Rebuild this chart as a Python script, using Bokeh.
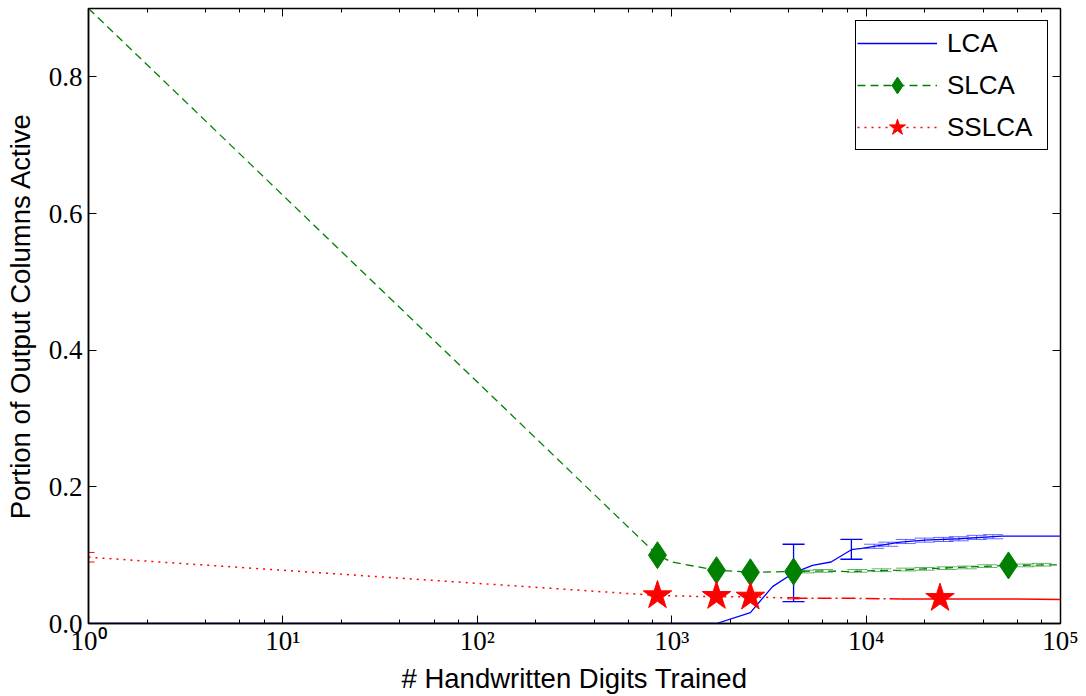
from bokeh.plotting import figure
from bokeh.models import (ColumnDataSource, Whisker, TeeHead, FixedTicker, LogTicker,
                          LinearAxis, LogAxis, Legend, LegendItem, CustomJSTickFormatter)
from bokeh.embed import file_html
from bokeh.resources import INLINE

# ---- data ----
lca_x = [1, 1000, 1700, 2540, 3300, 4235, 5300, 6600, 8400, 9500, 11000, 15000, 20000, 30000, 50000, 100000]
lca_y = [0, 0, 0, 0.016, 0.054, 0.074, 0.085, 0.090, 0.108, 0.110, 0.113, 0.119, 0.122, 0.124, 0.128, 0.128]
lca_err_x = [4235, 8400]
lca_err_lo = [0.032, 0.094]
lca_err_hi = [0.116, 0.123]
lca_fine_x = [11000, 13000, 16000, 20000, 25000, 30000, 37000, 45000]
lca_fine_y = [0.113, 0.116, 0.120, 0.122, 0.123, 0.124, 0.126, 0.127]
lca_fine_e = [0.003, 0.003, 0.003, 0.003, 0.003, 0.003, 0.003, 0.003]

slca_x = [1, 845, 1000, 1700, 2540, 4235, 6000, 8000, 10000, 15000, 20000, 30000, 54000, 100000]
slca_y = [0.9, 0.100, 0.090, 0.078, 0.075, 0.076, 0.077, 0.076, 0.077, 0.078, 0.080, 0.082, 0.085, 0.086]
slca_mark_x = [845, 1700, 2540, 4235, 54000]
slca_mark_y = [0.100, 0.078, 0.075, 0.076, 0.085]
slca_fine_x = [4800, 6000, 9000, 12000, 16000, 20000, 26000, 33000, 42000, 65000, 80000]
slca_fine_y = [0.076, 0.077, 0.077, 0.078, 0.079, 0.080, 0.081, 0.082, 0.084, 0.085, 0.086]
slca_fine_e = [0.002] * 11

sslca_x = [1, 845, 1700, 2540, 4235, 8000, 15000, 24000, 50000, 100000]
sslca_y = [0.097, 0.041, 0.039, 0.039, 0.037, 0.037, 0.036, 0.036, 0.036, 0.035]
sslca_mark_x = [845, 1700, 2540, 24000]
sslca_mark_y = [0.041, 0.040, 0.039, 0.037]
sslca_err_x = [1, 4235]
sslca_err_lo = [0.090, 0.036]
sslca_err_hi = [0.104, 0.038]

y_ticks = [0.0, 0.2, 0.4, 0.6, 0.8]
x_ticks = [1, 10, 100, 1000, 10000, 100000]
x_tick_labels = ["10\u2070", "10\u00b9", "10\u00b2", "10\u00b3", "10\u2074", "10\u2075"]

BLUE, GREEN, RED = "#0000ff", "#008000", "#ff0000"
SERIF = "Liberation Serif"
SANS = "Liberation Sans"

p = figure(width=1086, height=696, x_axis_type="log", x_range=(1, 100000), y_range=(0, 0.9),
           output_backend="svg", toolbar_location=None,
           min_border_left=88, min_border_right=26, min_border_top=8, min_border_bottom=71)
p.xgrid.visible = False
p.ygrid.visible = False
p.outline_line_color = "black"
p.outline_line_width = 1.5
p.outline_line_alpha = 1.0
p.background_fill_color = "white"
p.border_fill_color = "white"

# axes
xa = p.xaxis[0]
xa.ticker = LogTicker(desired_num_ticks=6)
xa.major_label_overrides = {v: s for v, s in zip(x_ticks, x_tick_labels)}
xa.axis_label = "# Handwritten Digits Trained"
ya = p.yaxis[0]
ya.ticker = FixedTicker(ticks=y_ticks)
ya.formatter = CustomJSTickFormatter(code="return tick.toFixed(1);")
ya.axis_label = "Portion of Output Columns Active"
for ax in (xa, ya):
    ax.axis_line_color = "black"
    ax.axis_line_width = 1.5
    ax.major_tick_in = 8
    ax.major_tick_out = 0
    ax.minor_tick_in = 4
    ax.minor_tick_out = 0
    ax.major_label_text_font = SERIF
    ax.major_label_text_font_size = "27px"
    ax.major_label_text_color = "black"
    ax.axis_label_text_font = SANS
    ax.axis_label_text_font_size = "27.5px"
    ax.axis_label_text_font_style = "normal"
    ax.axis_label_text_color = "black"
ya.minor_tick_in = 0
ya.major_label_standoff = 6
xa.major_label_standoff = 2
xa.axis_label_standoff = 4
ya.axis_label_standoff = 10

# inward ticks on the opposite sides
top = LogAxis(ticker=LogTicker(desired_num_ticks=6), major_tick_in=8, major_tick_out=0,
              minor_tick_in=4, minor_tick_out=0, major_label_text_color=None,
              major_label_standoff=0, axis_line_color=None)
right = LinearAxis(ticker=FixedTicker(ticks=y_ticks), major_tick_in=8, major_tick_out=0,
                   minor_tick_in=0, minor_tick_out=0, major_label_text_color=None,
                   major_label_standoff=0, axis_line_color=None)
p.add_layout(top, "above")
p.add_layout(right, "right")

# ---- LCA ----
lca_line = p.line(lca_x, lca_y, line_color=BLUE, line_width=1.3)
src = ColumnDataSource(dict(x=lca_err_x, lo=lca_err_lo, hi=lca_err_hi))
p.add_layout(Whisker(source=src, base="x", lower="lo", upper="hi", line_color=BLUE, line_width=1.3,
                     upper_head=TeeHead(size=22, line_color=BLUE, line_width=1.3),
                     lower_head=TeeHead(size=22, line_color=BLUE, line_width=1.3)))
src = ColumnDataSource(dict(x=lca_fine_x, lo=[a - e for a, e in zip(lca_fine_y, lca_fine_e)],
                            hi=[a + e for a, e in zip(lca_fine_y, lca_fine_e)]))
p.add_layout(Whisker(source=src, base="x", lower="lo", upper="hi", line_color=BLUE, line_width=1,
                     line_alpha=0.6,
                     upper_head=TeeHead(size=20, line_color=BLUE, line_width=1, line_alpha=0.6),
                     lower_head=TeeHead(size=20, line_color=BLUE, line_width=1, line_alpha=0.6)))

# ---- SLCA ----
slca_line = p.line(slca_x, slca_y, line_color=GREEN, line_width=1.3, line_dash="8 5")
src = ColumnDataSource(dict(x=slca_fine_x, lo=[a - e for a, e in zip(slca_fine_y, slca_fine_e)],
                            hi=[a + e for a, e in zip(slca_fine_y, slca_fine_e)]))
p.add_layout(Whisker(source=src, base="x", lower="lo", upper="hi", line_color=GREEN, line_width=1,
                     line_alpha=0.6,
                     upper_head=TeeHead(size=20, line_color=GREEN, line_width=1, line_alpha=0.6),
                     lower_head=TeeHead(size=20, line_color=GREEN, line_width=1, line_alpha=0.6)))
slca_mark = p.scatter(slca_mark_x, slca_mark_y, marker="diamond", size=27,
                      fill_color=GREEN, line_color=GREEN)

# ---- SSLCA ----
n_dot = sslca_x.index(4235) + 1
n_mid = sslca_x.index(15000) + 1
sslca_line = p.line(sslca_x[:n_dot], sslca_y[:n_dot], line_color=RED, line_width=1.5, line_dash="2 5")
p.line(sslca_x[n_dot - 1:n_mid], sslca_y[n_dot - 1:n_mid], line_color=RED, line_width=1.5,
       line_dash="14 4 2 4")
p.line(sslca_x[n_mid - 1:], sslca_y[n_mid - 1:], line_color=RED, line_width=1.5)
src = ColumnDataSource(dict(x=sslca_err_x, lo=sslca_err_lo, hi=sslca_err_hi))
p.add_layout(Whisker(source=src, base="x", lower="lo", upper="hi", line_color=RED, line_width=1,
                     upper_head=TeeHead(size=12, line_color=RED, line_width=1),
                     lower_head=TeeHead(size=12, line_color=RED, line_width=1)))
sslca_mark = p.scatter(sslca_mark_x, sslca_mark_y, marker="star", size=30,
                       fill_color=RED, line_color=RED)

legend = Legend(items=[
    LegendItem(label="LCA", renderers=[lca_line]),
    LegendItem(label="SLCA", renderers=[slca_line, slca_mark]),
    LegendItem(label="SSLCA", renderers=[sslca_line, sslca_mark]),
], location="top_right")
legend.label_text_font = SANS
legend.label_text_font_size = "26px"
legend.label_text_color = "black"
legend.glyph_width = 80
legend.glyph_height = 42
legend.label_height = 30
legend.label_width = 99
legend.label_standoff = 10
legend.spacing = 0
legend.padding = 1
legend.margin = 12
legend.border_line_color = "black"
legend.border_line_width = 1.5
legend.border_line_alpha = 1.0
legend.background_fill_alpha = 1.0
p.add_layout(legend)

open("out.html", "w").write(file_html(p, INLINE))
